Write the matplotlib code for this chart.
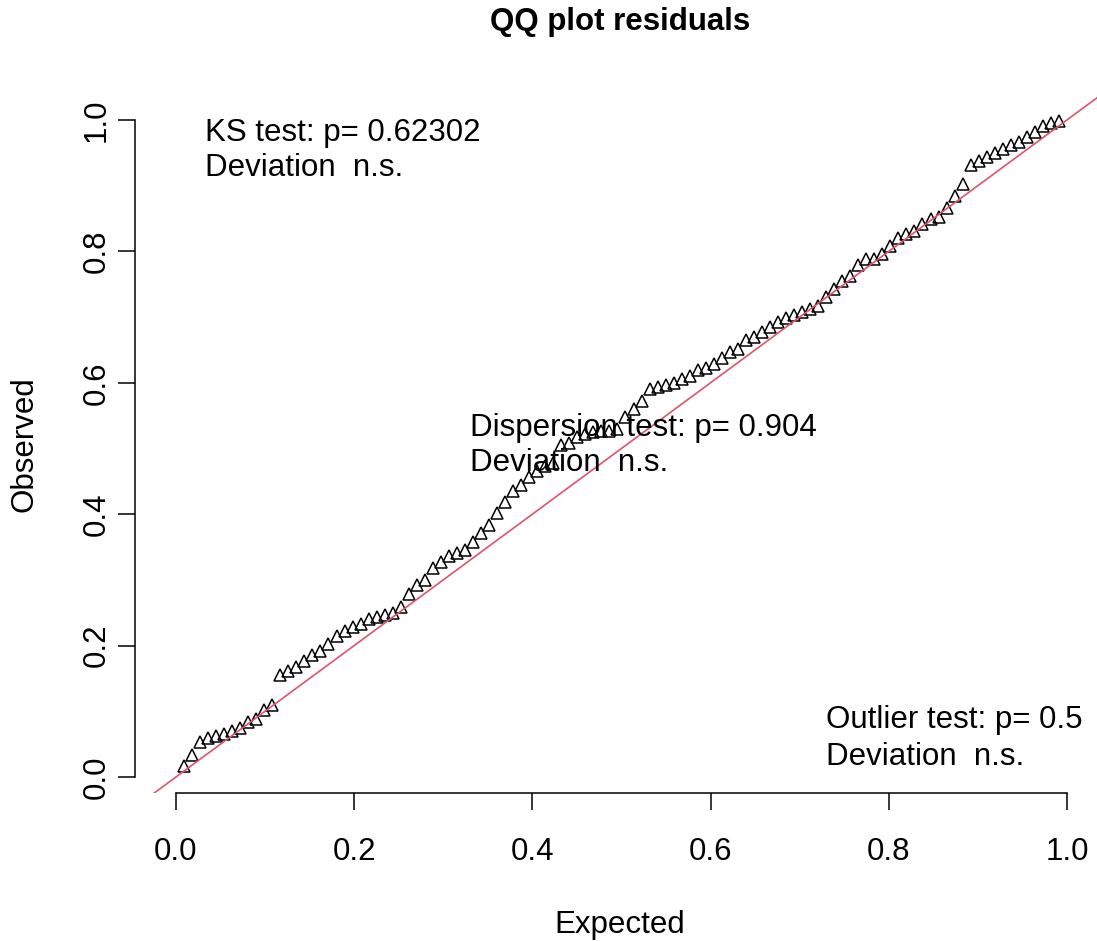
import numpy as np
import matplotlib
matplotlib.use("Agg")
import matplotlib.pyplot as plt

plt.rcParams["font.family"] = ["Liberation Sans", "DejaVu Sans"]

# sorted scaled residuals (observed quantiles)
observed = [
    0.017, 0.033, 0.053, 0.059, 0.062, 0.066, 0.070, 0.074, 0.084, 0.088,
    0.102, 0.110, 0.155, 0.162, 0.168, 0.176, 0.185, 0.192, 0.203, 0.214,
    0.222, 0.229, 0.233, 0.240, 0.244, 0.246, 0.249, 0.258, 0.278, 0.292,
    0.300, 0.318, 0.327, 0.336, 0.341, 0.345, 0.357, 0.371, 0.384, 0.402,
    0.418, 0.435, 0.444, 0.456, 0.466, 0.473, 0.478, 0.506, 0.509, 0.517,
    0.522, 0.525, 0.526, 0.527, 0.529, 0.548, 0.560, 0.572, 0.590, 0.593,
    0.596, 0.600, 0.605, 0.610, 0.619, 0.623, 0.628, 0.637, 0.647, 0.651,
    0.665, 0.669, 0.678, 0.685, 0.692, 0.698, 0.703, 0.708, 0.713, 0.717,
    0.730, 0.742, 0.755, 0.763, 0.780, 0.788, 0.789, 0.796, 0.808, 0.821,
    0.827, 0.831, 0.841, 0.850, 0.853, 0.866, 0.884, 0.903, 0.931, 0.938,
    0.943, 0.949, 0.956, 0.962, 0.967, 0.974, 0.982, 0.991, 0.996, 0.999,
]
n = len(observed)
expected = np.arange(1, n + 1) / (n + 1)

ticks = [0.0, 0.2, 0.4, 0.6, 0.8, 1.0]
tick_labels = ["0.0", "0.2", "0.4", "0.6", "0.8", "1.0"]

tests = [
    ("KS test: p= 0.62302", "Deviation  n.s.", 0.0325, 0.980, 0.927),
    ("Dispersion test: p= 0.904", "Deviation  n.s.", 0.330, 0.531, 0.478),
    ("Outlier test: p= 0.5", "Deviation  n.s.", 0.730, 0.087, 0.030),
]

FS = 22.5
RED = "#DF536B"

fig = plt.figure(figsize=(10.97, 9.41), dpi=100)
ax = fig.add_axes([135 / 1097, 1 - 793 / 941, 962 / 1097, 698 / 941])
ax.set_xlim(-0.046, 1.0337)
ax.set_ylim(-0.0244, 1.038)

ax.plot(expected, observed, ls="none", marker="^", ms=8.5, mfc="none",
        mec="black", mew=1.1, zorder=2)
ax.axline((0, 0), (1, 1), color=RED, lw=1.2, zorder=3)

for line1, line2, x, y1, y2 in tests:
    ax.text(x, y1, line1, fontsize=FS, ha="left", va="center")
    ax.text(x, y2, line2, fontsize=FS, ha="left", va="center")

# base-R style axes: no box, axis lines only over the tick range
for side in ("top", "right"):
    ax.spines[side].set_visible(False)
for side in ("left", "bottom"):
    ax.spines[side].set_bounds(0, 1)
    ax.spines[side].set_linewidth(1.1)
ax.set_xticks(ticks)
ax.set_xticklabels(tick_labels)
ax.set_yticks(ticks)
ax.set_yticklabels(tick_labels, rotation=90, va="center")
ax.tick_params(direction="out", length=12, width=1.1, labelsize=FS)
ax.tick_params(axis="x", pad=20)
ax.tick_params(axis="y", pad=5)

fig.text(620 / 1097, 1 - 22 / 941, "QQ plot residuals", fontsize=FS,
         fontweight="bold", ha="center", va="center")
fig.text(620 / 1097, 1 - 925 / 941, "Expected", fontsize=FS,
         ha="center", va="center")
fig.text(25 / 1097, 1 - 444 / 941, "Observed", fontsize=FS,
         ha="center", va="center", rotation=90)

fig.savefig("out.png", dpi=100)
